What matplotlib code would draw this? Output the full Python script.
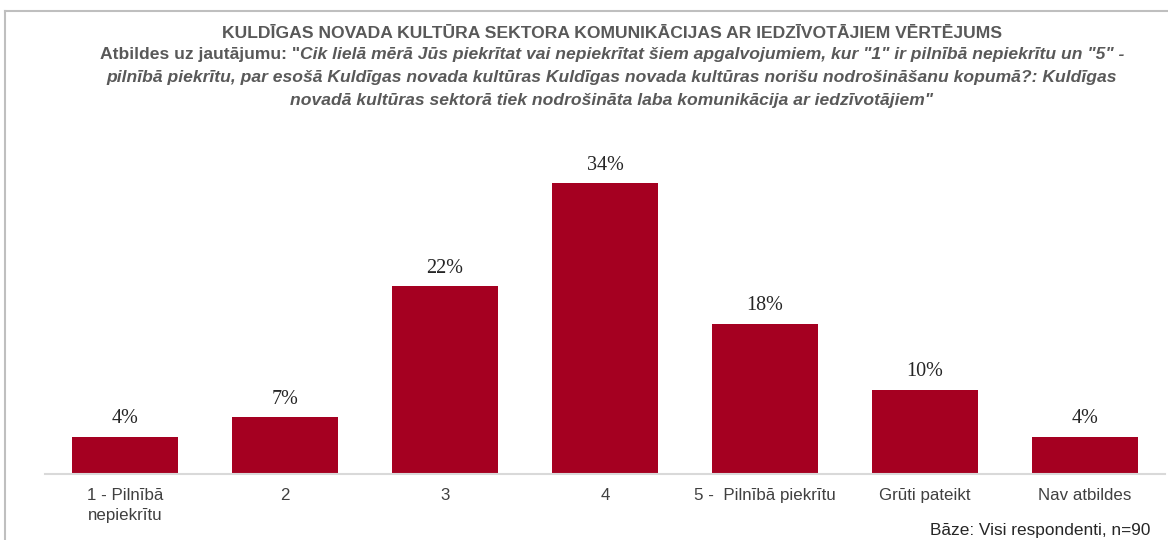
import matplotlib.pyplot as plt
from matplotlib.lines import Line2D

# Data
categories = ['1 - Pilnībā\nnepiekrītu', '2', '3', '4', '5 -  Pilnībā piekrītu',
              'Grūti pateikt', 'Nav atbildes']
values = [4.4, 6.7, 22.2, 34.4, 17.8, 10.0, 4.4]
labels = ['4%', '7%', '22%', '34%', '18%', '10%', '4%']

title1 = 'KULDĪGAS NOVADA KULTŪRA SEKTORA KOMUNIKĀCIJAS AR IEDZĪVOTĀJIEM VĒRTĒJUMS'
title2a = 'Atbildes uz jautājumu: "'
title2b = 'Cik lielā mērā Jūs piekrītat vai nepiekrītat šiem apgalvojumiem, kur "1" ir pilnībā nepiekrītu un "5" -'
title3 = 'pilnībā piekrītu, par esošā Kuldīgas novada kultūras Kuldīgas novada kultūras norišu nodrošināšanu kopumā?: Kuldīgas'
title4 = 'novadā kultūras sektorā tiek nodrošināta laba komunikācija ar iedzīvotājiem"'
base_note = 'Bāze: Visi respondenti, n=90'

bar_color = '#A50021'
title_color = '#595959'
text_color = '#404040'

plt.rcParams['font.family'] = ['Liberation Sans', 'DejaVu Sans']

W, H = 1168, 540
fig = plt.figure(figsize=(W / 100, H / 100), dpi=100)

# axes placed in pixel terms
ax_left, ax_right, ax_bottom, ax_top = 45, 1165, 540 - 474, 540 - 150
ax = fig.add_axes([ax_left / W, ax_bottom / H, (ax_right - ax_left) / W, (ax_top - ax_bottom) / H])

x = range(len(categories))
bars = ax.bar(x, values, width=0.66, color=bar_color)
ax.set_xlim(-0.5, len(categories) - 0.5)
ax.set_ylim(0, (474 - 150) / 8.45)

for b, lab in zip(bars, labels):
    ax.annotate(lab, (b.get_x() + b.get_width() / 2, b.get_height()),
                xytext=(0, 6), textcoords='offset points', ha='center', va='bottom',
                fontsize=14.5, family='Liberation Serif', color='#262626')

for s in ['top', 'right', 'left']:
    ax.spines[s].set_visible(False)
ax.spines['bottom'].set_color('#d9d9d9')
ax.spines['bottom'].set_linewidth(1.5)
ax.set_yticks([])
ax.set_xticks(list(x))
ax.set_xticklabels(categories, fontsize=12.2, color=text_color, linespacing=1.45)
ax.tick_params(axis='x', length=0, pad=10)

# frame lines (top and left)
fig.add_artist(Line2D([5 / W, 1], [1 - 11 / H, 1 - 11 / H], color='#bfbfbf', lw=1.5))
fig.add_artist(Line2D([5 / W, 5 / W], [0, 1 - 11 / H], color='#bfbfbf', lw=1.5))

# titles
tsize = 12.6
cx = 612 / W
fig.text(cx, 1 - 33 / H, title1, ha='center', va='center', fontsize=tsize,
         fontweight='bold', color=title_color)
ta = fig.text(0, 1 - 55 / H, title2a, ha='left', va='center', fontsize=tsize,
              fontweight='bold', color=title_color)
tb = fig.text(0, 1 - 55 / H, title2b, ha='left', va='center', fontsize=tsize,
              fontweight='bold', style='italic', color=title_color)
fig.canvas.draw()
r = fig.canvas.get_renderer()
wa = ta.get_window_extent(r).width
wb = tb.get_window_extent(r).width
start = cx * W - (wa + wb) / 2
ta.set_x(start / W)
tb.set_x((start + wa) / W)
fig.text(cx, 1 - 78 / H, title3, ha='center', va='center', fontsize=tsize,
         fontweight='bold', style='italic', color=title_color)
fig.text(cx, 1 - 101 / H, title4, ha='center', va='center', fontsize=tsize,
         fontweight='bold', style='italic', color=title_color)

fig.text(1150 / W, 1 - 530 / H, base_note, ha='right', va='center', fontsize=12.4,
         color='#262626')

fig.savefig('out.png', dpi=100)
